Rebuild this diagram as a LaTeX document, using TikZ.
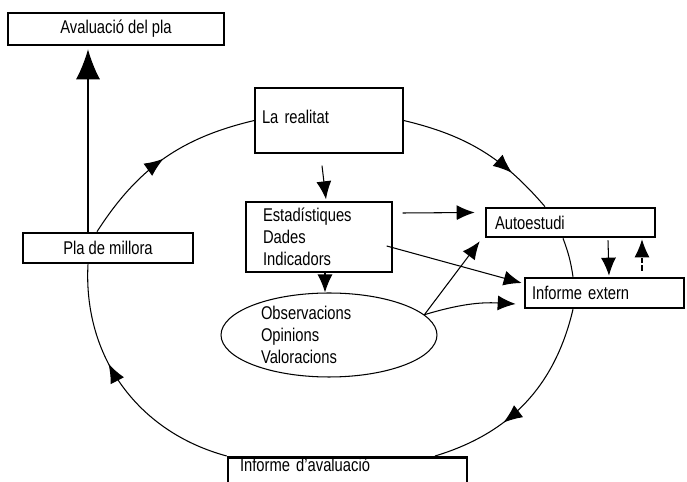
\documentclass[tikz,border=0pt]{standalone}
\usepackage{fontspec}
\setmainfont{Liberation Sans}[FakeStretch=0.8]
\usetikzlibrary{arrows.meta,shapes.geometric,decorations.markings}

\begin{document}
\begin{tikzpicture}[
    x=0.02cm, y=-0.02cm,
    every node/.style={font=\fontsize{10.5}{12.6}\selectfont},
    plainbox/.style={draw, line width=0.8pt, inner sep=0pt},
    thickbox/.style={draw, line width=1.5pt, inner sep=0pt},
    oval/.style={draw, ellipse, line width=0.6pt, inner sep=0pt},
    arrow/.style={-{Latex[length=3.6mm, width=3mm]}, line width=0.6pt},
    bigarrow/.style={-{Latex[length=6mm, width=4.8mm]}, line width=0.6pt},
    loopline/.style={line width=0.6pt},
    midarrow/.style={postaction={decorate}, decoration={markings,
        mark=at position #1 with {\arrow{Latex[length=3.8mm, width=3mm]}}}}
    ]
\useasboundingbox (0,0) rectangle (687,482);
\clip (0,0) rectangle (687,482);

% Boxes
\node[thickbox, minimum width=43.2mm, minimum height=6.4mm] (aval) at (116,29) {Avaluació del pla};
\node[plainbox, minimum height=13mm, inner xsep=1.4mm, text width=26.8mm, align=left,
      text depth=1.4mm] (real) at (329,120.5) {La realitat};
\node[plainbox, minimum height=14mm, inner xsep=3.4mm, text width=22.4mm, align=left] (stats) at (319,237) {Estadístiques\\Dades\\Indicadors};
\node[oval, minimum width=43.2mm, minimum height=16.8mm, text width=27.2mm, align=left] (obs) at (329,335) {Observacions\\Opinions\\Valoracions};
\node[thickbox, minimum height=5.8mm, inner xsep=1.8mm, text width=30.2mm, align=left] (auto) at (570.5,222.5) {Autoestudi};
\node[thickbox, minimum height=6mm, inner xsep=1.4mm, text width=29mm, align=left] (extern) at (604.5,293) {Informe extern};
\node[thickbox, minimum width=34mm, minimum height=6mm] (millora) at (108,248) {Pla de millora};
\node[thickbox, anchor=north, inner xsep=2.4mm, inner ysep=0.3mm, text width=43mm, align=left,
      text height=2.6mm, text depth=6mm] (infaval) at (347.5,456) {Informe d'avaluació};

% Cycle of the evaluation
\draw[loopline, midarrow=0.6] (infaval.north west) to[bend left=39] ([shift={(-20,0)}]millora.south);
\draw[loopline, midarrow=0.5] ([shift={(-11,0)}]millora.north) to[bend left=22] (real.west);
\draw[loopline, midarrow=0.72] (real.east) to[bend left=18] ([shift={(-25.5,0)}]auto.north);
\draw[loopline] ([shift={(-7.5,0)}]auto.south) to[bend left=6] ([shift={(-31.5,0)}]extern.north);
\draw[loopline, midarrow=0.64] ([shift={(-31.5,0)}]extern.south) to[bend left=30] ([shift={(87.5,0)}]infaval.north);

% Arrows between the boxes
\draw[bigarrow] ([shift={(-20,0)}]millora.north) -- ([shift={(-28,3)}]aval.south);
\draw[arrow] ([shift={(-7,12)}]real.south) -- ([shift={(7,-2)}]stats.north);
\draw[arrow] ([shift={(6,0)}]stats.south) -- ([shift={(-4,0)}]obs.north);
\draw[arrow] ([shift={(10,-24)}]stats.east) -- ([shift={(-10,-10)}]auto.west);
\draw[arrow] ([shift={(-6,9)}]stats.east) -- ([shift={(-2,-10)}]extern.west);
\draw[arrow] (obs.12) -- ([shift={(-5,3)}]auto.south west);
\draw[arrow] (obs.12) to[bend left=10] ([shift={(-8,11)}]extern.west);
\draw[arrow] ([shift={(37.5,2)}]auto.south) -- ([shift={(4.5,-1)}]extern.north);
\draw[arrow, dash pattern=on 3pt off 1.5pt] ([shift={(37.5,-6)}]extern.north) -- ([shift={(71.5,1)}]auto.south);

\end{tikzpicture}
\end{document}
